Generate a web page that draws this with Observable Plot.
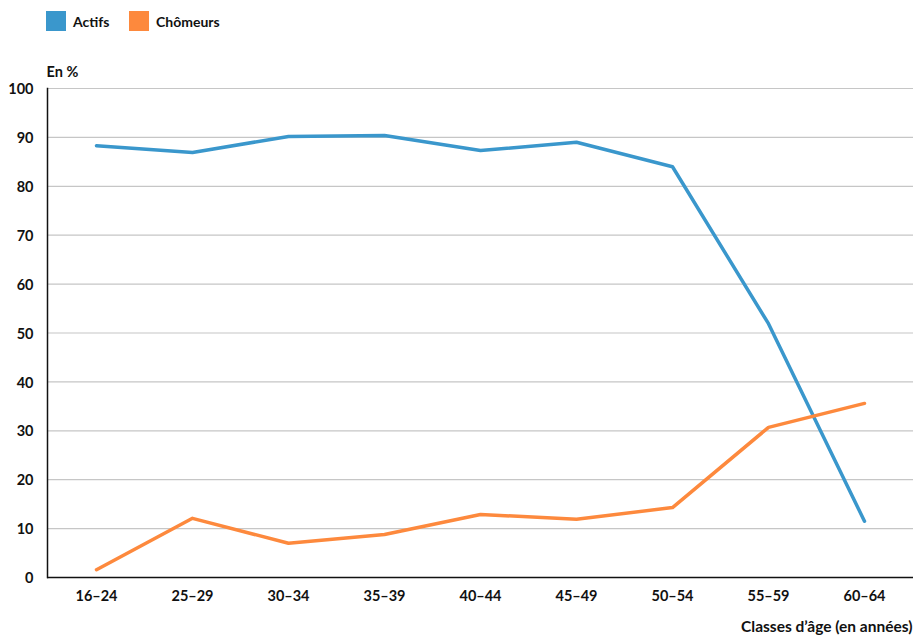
<!DOCTYPE html>
<html>
<head>
<meta charset="utf-8">
<script src="https://cdn.jsdelivr.net/npm/d3@7"></script>
<script src="https://cdn.jsdelivr.net/npm/@observablehq/plot@0.6"></script>
<style>
  body { margin: 0; background: #fff; font-family: Lato, "Open Sans", sans-serif; font-weight: 700; color: #111; }
  #legend { height: 42px; position: relative; font-size: 14px; }
  .item { position: absolute; top: 11px; display: flex; align-items: center; }
  .sw { width: 20px; height: 20px; margin-right: 7px; }
  svg { display: block; }
</style>
</head>
<body>
<div id="legend"></div>
<div id="chart"></div>
<script>
const categories = ["16–24", "25–29", "30–34", "35–39", "40–44", "45–49", "50–54", "55–59", "60–64"];
const actifs = [88.3, 86.9, 90.2, 90.4, 87.3, 89.0, 84.0, 51.9, 11.5];
const chomeurs = [1.6, 12.1, 7.0, 8.8, 12.9, 11.9, 14.3, 30.7, 35.6];
const seriesNames = ["Actifs", "Chômeurs"];
const seriesColors = ["#3a97cc", "#fd893d"];
const yTicks = [0, 10, 20, 30, 40, 50, 60, 70, 80, 90, 100];

const legend = document.getElementById("legend");
const legendX = [46, 129];
seriesNames.forEach((n, i) => {
  const d = document.createElement("div");
  d.className = "item";
  d.style.left = legendX[i] + "px";
  d.innerHTML = `<span class="sw" style="background:${seriesColors[i]}"></span><span>${n}</span>`;
  legend.appendChild(d);
});

const data = [];
categories.forEach((c, i) => {
  data.push({cat: c, serie: seriesNames[0], v: actifs[i]});
  data.push({cat: c, serie: seriesNames[1], v: chomeurs[i]});
});

const chart = Plot.plot({
  width: 913,
  height: 599,
  marginLeft: 47,
  marginRight: 0,
  marginTop: 46,
  marginBottom: 64,
  style: {fontFamily: "Lato, 'Open Sans', sans-serif", fontWeight: 700, fontSize: "14px", color: "#111"},
  x: {type: "point", domain: categories, padding: 0.5, label: null},
  y: {domain: [0, 100], label: null},
  color: {domain: seriesNames, range: seriesColors},
  marks: [
    Plot.gridY(yTicks.filter(t => t > 0), {stroke: "#c6c6c6", strokeOpacity: 1, strokeWidth: 1.2}),
    Plot.axisY(yTicks, {tickSize: 0, tickPadding: 14, dy: 1, fontSize: 14.5, fontWeight: 700}),
    Plot.axisX({tickSize: 0, tickPadding: 13, fontSize: 14.5, fontWeight: 700}),
    Plot.ruleY([0], {stroke: "#111", strokeWidth: 1.5}),
    Plot.frame({anchor: "left", stroke: "#111", strokeWidth: 1.5}),
    Plot.line(data, {x: "cat", y: "v", z: "serie", stroke: "serie", strokeWidth: 3.5, strokeLinejoin: "round", strokeLinecap: "round"}),
    Plot.text(["En %"], {frameAnchor: "top-left", textAnchor: "start", dx: -1, dy: -22, fontSize: 14.5, fontWeight: 700}),
    Plot.text(["Classes d’âge (en années)"], {frameAnchor: "bottom-right", textAnchor: "end", dx: -1, dy: 54, fontSize: 15.5, fontWeight: 700})
  ]
});
document.getElementById("chart").appendChild(chart);
</script>
</body>
</html>
